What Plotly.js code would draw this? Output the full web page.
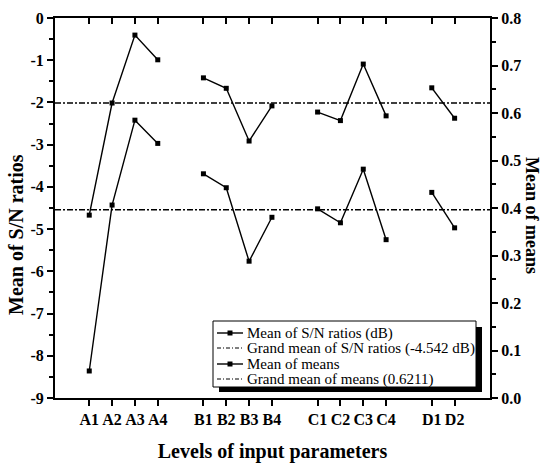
<!DOCTYPE html>
<html>
<head>
<meta charset="utf-8">
<script src="https://cdn.plot.ly/plotly-3.0.1.min.js"></script>
<style>
  html, body { margin: 0; padding: 0; background: #fff; }
  #chart { width: 542px; height: 463px; }
</style>
</head>
<body>
<div id="chart"></div>
<script>
// ---- data ----
const levels = ['A1','A2','A3','A4','B1','B2','B3','B4','C1','C2','C3','C4','D1','D2'];
const snRatios = [-8.36,-4.43,-2.42,-2.97,-3.69,-4.02,-5.76,-4.72,-4.52,-4.85,-3.58,-5.25,-4.13,-4.97];
const meanOfMeans = [0.385,0.621,0.764,0.712,0.674,0.652,0.541,0.615,0.602,0.584,0.703,0.594,0.653,0.589];
const snGrandMean = -4.542;
const meansGrandMean = 0.6211;
const snTicks = [0,-1,-2,-3,-4,-5,-6,-7,-8,-9];
const meanTicks = [0.0,0.1,0.2,0.3,0.4,0.5,0.6,0.7,0.8];
const legendLabels = ['Mean of S/N ratios (dB)', 'Grand mean of S/N ratios (-4.542 dB)',
                      'Mean of means', 'Grand mean of means (0.6211)'];

// positions: one slot per level, one empty slot between parameter groups
const xPos = [];
let p = 0;
levels.forEach((lv, i) => {
  if (i > 0 && lv[0] !== levels[i-1][0]) p += 1;
  p += 1;
  xPos.push(p);
});
function withBreaks(vals) {
  const xs = [], ys = [];
  levels.forEach((lv, i) => {
    if (i > 0 && lv[0] !== levels[i-1][0]) { xs.push(null); ys.push(null); }
    xs.push(xPos[i]); ys.push(vals[i]);
  });
  return {xs, ys};
}
const xMin = -0.5, xMax = 18.55;

const sn = withBreaks(snRatios);
const mm = withBreaks(meanOfMeans);
const FONT = '"Liberation Serif", "Times New Roman", serif';
const DASHDOT = '6px,2px,2px,2px';

const traces = [
  { x: sn.xs, y: sn.ys, type: 'scatter', mode: 'lines+markers', name: legendLabels[0],
    line: {color: '#000', width: 1.4}, marker: {symbol: 'square', size: 5, color: '#000'},
    connectgaps: false, xaxis: 'x', yaxis: 'y' },
  { x: [xMin, xMax], y: [snGrandMean, snGrandMean], type: 'scatter', mode: 'lines',
    name: legendLabels[1], line: {color: '#000', width: 1.7, dash: DASHDOT}, xaxis: 'x', yaxis: 'y' },
  { x: mm.xs, y: mm.ys, type: 'scatter', mode: 'lines+markers', name: legendLabels[2],
    line: {color: '#000', width: 1.4}, marker: {symbol: 'square', size: 5, color: '#000'},
    connectgaps: false, xaxis: 'x', yaxis: 'y2' },
  { x: [xMin, xMax], y: [meansGrandMean, meansGrandMean], type: 'scatter', mode: 'lines',
    name: legendLabels[3], line: {color: '#000', width: 1.7, dash: DASHDOT}, xaxis: 'x', yaxis: 'y2' },
  { x: [xMin, xMax], y: [null, null], type: 'scatter', mode: 'lines', showlegend: false,
    hoverinfo: 'skip', xaxis: 'x2', yaxis: 'y' }
];

// plot-area pixel frame (for placing the hand-built legend box)
const PL = 55, PR = 490, PT = 18, PB = 398;
const fx = px => (px - PL) / (PR - PL);
const fy = py => (PB - py) / (PB - PT);

const shapes = [
  {type: 'rect', xref: 'paper', yref: 'paper', layer: 'above',
   x0: fx(219), x1: fx(482), y0: fy(392), y1: fy(327), fillcolor: '#000', line: {width: 0}},
  {type: 'rect', xref: 'paper', yref: 'paper', layer: 'above',
   x0: fx(213), x1: fx(476), y0: fy(387), y1: fy(321), fillcolor: '#fff', line: {color: '#000', width: 1}}
];
const annotations = [];
const rowY = [333, 348, 364, 379];
legendLabels.forEach((lab, i) => {
  const isGrand = (i % 2 === 1);
  shapes.push({type: 'line', xref: 'paper', yref: 'paper', layer: 'above',
    x0: fx(217), x1: fx(243), y0: fy(rowY[i]), y1: fy(rowY[i]),
    line: {color: '#000', width: isGrand ? 1 : 1.4, dash: isGrand ? '4px,2px,1px,2px' : 'solid'}});
  if (!isGrand) {
    shapes.push({type: 'rect', xref: 'paper', yref: 'paper', layer: 'above',
      x0: fx(227.5), x1: fx(232.5), y0: fy(rowY[i] + 2.5), y1: fy(rowY[i] - 2.5),
      fillcolor: '#000', line: {width: 0}});
  }
  annotations.push({text: lab, xref: 'paper', yref: 'paper', x: fx(245), y: fy(rowY[i]),
    xanchor: 'left', yanchor: 'middle', showarrow: false,
    font: {family: FONT, size: 15, color: '#000'}});
});
annotations.push(
  {text: 'Mean of S/N ratios', xref: 'paper', yref: 'paper', x: fx(16), y: fy(235),
   xanchor: 'center', yanchor: 'middle', textangle: -90, showarrow: false,
   font: {family: FONT, size: 20, color: '#000', weight: 'bold'}},
  {text: 'Mean of means', xref: 'paper', yref: 'paper', x: fx(532), y: fy(215),
   xanchor: 'center', yanchor: 'middle', textangle: 90, showarrow: false,
   font: {family: FONT, size: 18, color: '#000', weight: 'bold'}}
);

const tickFont = {family: FONT, size: 16, color: '#000', weight: 'bold'};
const layout = {
  width: 542, height: 463,
  margin: {l: PL, r: 542 - PR, t: PT, b: 463 - PB},
  paper_bgcolor: '#fff', plot_bgcolor: '#fff',
  font: {family: FONT, color: '#000'},
  showlegend: false,
  xaxis: {
    range: [xMin, xMax], tickvals: xPos, ticktext: levels,
    ticks: 'outside', ticklen: 6, tickwidth: 2, tickcolor: '#000',
    showline: true, linewidth: 2, linecolor: '#000', mirror: true,
    showgrid: false, zeroline: false, tickfont: tickFont,
    title: {text: 'Levels of input parameters', font: {family: FONT, size: 20, color: '#000', weight: 'bold'}, standoff: 17}
  },
  xaxis2: {
    range: [xMin, xMax], overlaying: 'x', side: 'top', tickvals: xPos,
    ticks: 'inside', ticklen: 6, tickwidth: 2, tickcolor: '#000',
    showticklabels: false, showline: false, showgrid: false, zeroline: false
  },
  yaxis: {
    range: [-9, 0], tickvals: snTicks, ticktext: snTicks.map(v => String(v)),
    ticks: 'outside', ticklen: 6, tickwidth: 2, tickcolor: '#000',
    minor: {dtick: 0.5, ticks: 'outside', ticklen: 4, tickwidth: 2, tickcolor: '#000', showgrid: false},
    showline: true, linewidth: 2, linecolor: '#000',
    showgrid: false, zeroline: false, tickfont: tickFont
  },
  yaxis2: {
    range: [0, 0.8], overlaying: 'y', side: 'right', tickvals: meanTicks,
    ticktext: meanTicks.map(v => v.toFixed(1)),
    ticks: 'outside', ticklen: 6, tickwidth: 2, tickcolor: '#000',
    minor: {dtick: 0.05, ticks: 'outside', ticklen: 4, tickwidth: 2, tickcolor: '#000', showgrid: false},
    showline: true, linewidth: 2, linecolor: '#000',
    showgrid: false, zeroline: false, tickfont: tickFont
  },
  shapes: shapes,
  annotations: annotations
};

Plotly.newPlot('chart', traces, layout, {displayModeBar: false, staticPlot: true});
</script>
</body>
</html>
